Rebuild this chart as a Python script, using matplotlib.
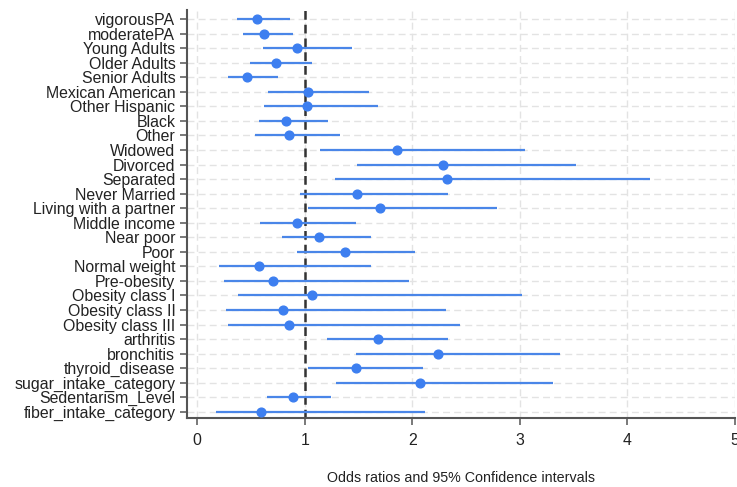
import matplotlib
matplotlib.use("Agg")
import matplotlib.pyplot as plt

plt.rcParams['font.family'] = ['Liberation Sans', 'DejaVu Sans']

labels = ["vigorousPA", "moderatePA", "Young Adults", "Older Adults", "Senior Adults",
          "Mexican American", "Other Hispanic", "Black", "Other", "Widowed", "Divorced",
          "Separated", "Never Married", "Living with a partner", "Middle income",
          "Near poor", "Poor", "Normal weight", "Pre-obesity", "Obesity class I",
          "Obesity class II", "Obesity class III", "arthritis", "bronchitis",
          "thyroid_disease", "sugar_intake_category", "Sedentarism_Level",
          "fiber_intake_category"]
odds = [0.56, 0.62, 0.93, 0.73, 0.46, 1.03, 1.02, 0.83, 0.85, 1.86, 2.29, 2.32, 1.49,
        1.70, 0.93, 1.13, 1.37, 0.57, 0.70, 1.07, 0.80, 0.85, 1.68, 2.24, 1.48, 2.07,
        0.89, 0.59]
ci_low = [0.37, 0.43, 0.61, 0.49, 0.29, 0.66, 0.62, 0.57, 0.54, 1.14, 1.49, 1.28, 0.96,
          1.03, 0.58, 0.79, 0.93, 0.20, 0.25, 0.38, 0.27, 0.29, 1.21, 1.48, 1.03, 1.29,
          0.65, 0.17]
ci_high = [0.86, 0.89, 1.44, 1.07, 0.75, 1.60, 1.68, 1.22, 1.33, 3.05, 3.52, 4.21, 2.33,
           2.79, 1.48, 1.62, 2.03, 1.62, 1.97, 3.02, 2.31, 2.44, 2.33, 3.37, 2.10, 3.31,
           1.24, 2.12]
xticks = [0, 1, 2, 3, 4, 5]
xlabel = "Odds ratios and 95% Confidence intervals"

W, H = 737, 487
fig = plt.figure(figsize=(W / 100, H / 100), dpi=100)
left, right, top, bottom = 186.5, 734.8, 10, 418
ax = fig.add_axes([left / W, 1 - bottom / H, (right - left) / W, (bottom - top) / H])

blue = "#4a86e8"
ypos = list(range(len(labels)))

ax.set_xlim(-0.1, 5.0)
ax.set_ylim(len(labels) - 1 + 0.42, -0.62)

# grid
for xt in xticks:
    ax.axvline(xt, color="#e3e3e3", lw=1.0, ls=(0, (5, 3)), zorder=0)
for y in ypos:
    ax.axhline(y, color="#e3e3e3", lw=1.0, ls=(0, (5, 3)), zorder=0)

ax.axvline(1, color="#333333", lw=1.8, ls=(0, (3.5, 2)), zorder=1)

ax.hlines(ypos, ci_low, ci_high, color=blue, lw=1.6, zorder=2)
ax.plot(odds, ypos, "o", color="#3d7ff0", ms=6.3, zorder=3)

ax.set_yticks(ypos)
ax.set_yticklabels(labels, fontsize=11.4, color="#222222")
ax.set_xticks(xticks)
ax.set_xticklabels([str(x) for x in xticks], fontsize=11.4, color="#222222")
ax.tick_params(axis="both", direction="out", length=5, width=1.1, color="#555555", pad=3)
ax.tick_params(axis="x", pad=6)

for s in ["top", "right"]:
    ax.spines[s].set_visible(False)
for s in ["left", "bottom"]:
    ax.spines[s].set_color("#555555")
    ax.spines[s].set_linewidth(1.5)

fig.text((left + right) / 2 / W, 1 - 478 / H, xlabel, ha="center", va="center",
         fontsize=10.3, color="#222222")

fig.savefig("out.png", dpi=100)
